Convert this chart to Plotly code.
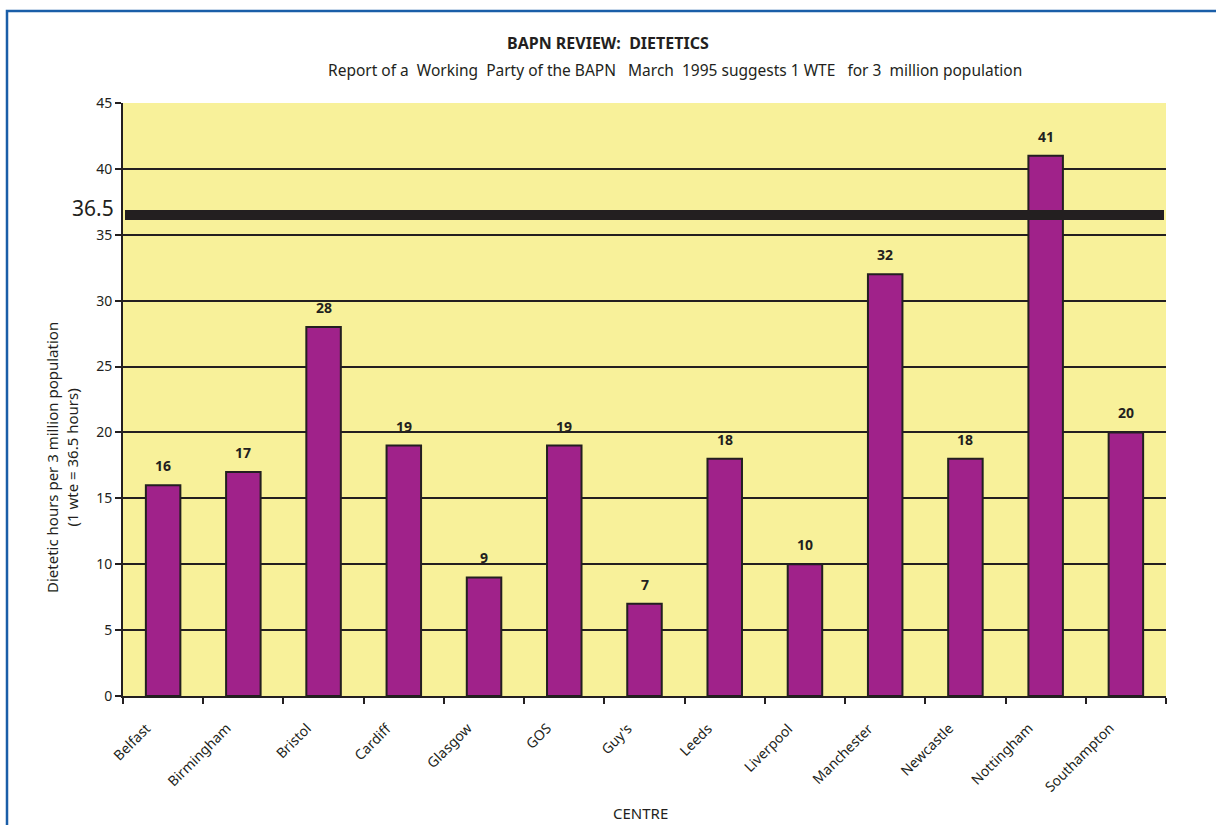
import plotly.graph_objects as go

# Dietetic hours per 3 million population, by centre
centres = ["Belfast", "Birmingham", "Bristol", "Cardiff", "Glasgow", "GOS", "Guy's",
           "Leeds", "Liverpool", "Manchester", "Newcastle", "Nottingham", "Southampton"]
hours = [16, 17, 28, 19, 9, 19, 7, 18, 10, 32, 18, 41, 20]
recommended = 36.5
y_ticks = [0, 5, 10, 15, 20, 25, 30, 35, 40, 45]

INK = "#231F20"
FONT = "Noto Sans"

W, H = 1216, 825
L, R, T, B = 123, 50, 103, 129
pw, ph = W - L - R, H - T - B


def px_x(px):
    return (px - L) / pw


def px_y(py):
    return (H - B - py) / ph


fig = go.Figure()
fig.add_trace(go.Bar(
    x=centres,
    y=hours,
    marker=dict(color="#A0228A", line=dict(color=INK, width=2)),
    showlegend=False,
))

# Value labels above each bar
for name, v in zip(centres, hours):
    fig.add_annotation(x=name, y=v, text=f"<b>{v}</b>", showarrow=False,
                       xanchor="center", yanchor="bottom", yshift=8,
                       font=dict(family=FONT, size=14, color=INK))

# Slanted category labels below the axis
for name in centres:
    fig.add_annotation(x=name, y=0, text=name, showarrow=False, textangle=-45,
                       xanchor="right", yanchor="top", xshift=-6, yshift=-20,
                       font=dict(family=FONT, size=14, color=INK))

# Recommended level: 1 WTE per 3 million population
fig.add_shape(type="line", xref="paper", yref="y",
              x0=px_x(125), x1=px_x(1164), y0=recommended, y1=recommended,
              line=dict(color=INK, width=10), layer="above")
fig.add_annotation(xref="paper", yref="y", x=px_x(116), y=recommended,
                   text=f"{recommended}", showarrow=False, xanchor="right",
                   yanchor="middle", yshift=7,
                   font=dict(family=FONT, size=21, color=INK))

# Outer frame
fig.add_shape(type="rect", xref="paper", yref="paper",
              x0=px_x(7), x1=px_x(1240), y0=px_y(11), y1=px_y(850),
              line=dict(color="#1A5EA8", width=2.5), fillcolor="rgba(0,0,0,0)",
              layer="below")

# Titles
fig.add_annotation(xref="paper", yref="paper", x=px_x(608), y=px_y(43),
                   text="<b>BAPN REVIEW:  DIETETICS</b>", showarrow=False,
                   xanchor="center", yanchor="middle",
                   font=dict(family=FONT, size=16, color=INK))
fig.add_annotation(xref="paper", yref="paper", x=px_x(675), y=px_y(70),
                   text="Report of a  Working  Party of the BAPN   March  1995 suggests 1 WTE   for 3  million population",
                   showarrow=False, xanchor="center", yanchor="middle",
                   font=dict(family=FONT, size=15.5, color=INK))
fig.add_annotation(xref="paper", yref="paper", x=px_x(62), y=px_y(458),
                   text="Dietetic hours per 3 million population<br>(1 wte = 36.5 hours)",
                   showarrow=False, textangle=-90, xanchor="center", yanchor="middle",
                   font=dict(family=FONT, size=15, color=INK))
fig.add_annotation(xref="paper", yref="paper", x=px_x(640), y=px_y(813),
                   text="CENTRE", showarrow=False, xanchor="center", yanchor="middle",
                   font=dict(family=FONT, size=15, color=INK))

fig.update_layout(
    width=W, height=H,
    margin=dict(l=L, r=R, t=T, b=B, pad=0),
    paper_bgcolor="white",
    plot_bgcolor="#F8F19A",
    bargap=0.57,
    font=dict(family=FONT, size=13, color=INK),
    xaxis=dict(
        type="category",
        categoryorder="array", categoryarray=centres,
        range=[-0.5, len(centres) - 0.5],
        tickson="boundaries",
        ticks="outside", ticklen=6, tickwidth=2, tickcolor=INK,
        showticklabels=False,
        showline=True, linecolor=INK, linewidth=2,
        showgrid=False,
    ),
    yaxis=dict(
        range=[0, 45],
        tickvals=y_ticks,
        ticks="outside", ticklen=6, tickwidth=2, tickcolor=INK,
        showline=True, linecolor=INK, linewidth=2,
        showgrid=True, gridcolor=INK, gridwidth=1.5,
        zeroline=False,
        tickfont=dict(family=FONT, size=14, color=INK),
    ),
)

fig.write_html("out.html")
